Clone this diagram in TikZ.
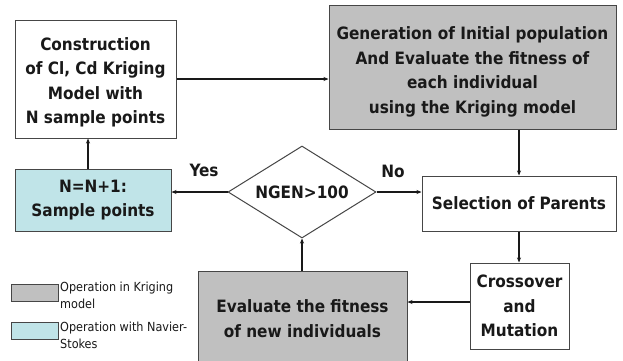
\documentclass[tikz,border=0pt]{standalone}
\usepackage{fontspec}
\setmainfont{DejaVu Sans Condensed}
\usetikzlibrary{shapes.geometric,arrows.meta}
\definecolor{boxgray}{RGB}{192,192,192}
\definecolor{boxblue}{RGB}{192,228,232}
\definecolor{txt}{RGB}{25,25,25}
\definecolor{edge}{RGB}{70,70,70}
\begin{document}
\begin{tikzpicture}[x=1pt,y=-1pt,
  boxtext/.style={inner sep=0pt,align=center,text=txt,
    font=\fontsize{17}{24.5}\selectfont\bfseries},
  box/.style={draw=edge,line width=1pt,boxtext},
  graybox/.style={box,fill=boxgray},
  bluebox/.style={box,fill=boxblue},
  arr/.style={-{Stealth[length=5pt,width=4pt]},line width=1.4pt,draw=txt},
  lbl/.style={text=txt,font=\fontsize{17}{20}\selectfont\bfseries},
  legtxt/.style={text=txt,font=\fontsize{12.5}{17}\selectfont,align=left,anchor=west,inner sep=0pt},
  swatch/.style={draw=edge,line width=1pt}]
\clip (0,0) rectangle (623,360);
\fill[white] (0,0) rectangle (623,360);
\node[box,minimum width=161pt,minimum height=118pt] (A) at (95.5,79) {};
\node[boxtext] (At) at (95.5,82.5)
  {Construction\\of Cl, Cd Kriging\\Model with\\N sample points};
\node[graybox,minimum width=287pt,minimum height=124pt] (B) at (472.5,67) {};
\node[boxtext] (Bt) at (472.5,72)
  {Generation of Initial population\\And Evaluate the fitness of\\each individual\\using the Kriging model};
\node[box,minimum width=194pt,minimum height=55pt] (C) at (519,203.5)
  {Selection of Parents};
\node[draw=edge,line width=1pt,shape=diamond,aspect=1.6,inner sep=0pt,
  minimum width=148pt,minimum height=92pt,text=txt,
  font=\fontsize{17}{20}\selectfont\bfseries] (G) at (302,192) {NGEN>100};
\node[bluebox,minimum width=156pt,minimum height=62pt] (D) at (93,200)
  {N=N+1:\\Sample points};
\node[box,minimum width=99pt,minimum height=86pt] (E) at (519.5,306)
  {Crossover\\and\\Mutation};
\node[graybox,minimum width=209pt,minimum height=98pt] (F) at (302.5,320) {};
\node[boxtext] (Ft) at (302.5,318.5) {Evaluate the fitness\\of new individuals};
\draw[arr] (A.east) -- (B.west |- A.east);
\draw[arr] (B.south -| C.north) -- (C.north);
\draw[arr] (G.east) -- (C.west |- G.east);
\draw[arr] (G.west) -- (D.east |- G.west);
\draw[arr] (D.north -| 88,0) -- (A.south -| 88,0);
\draw[arr] (C.south) -- (E.north -| C.south);
\draw[arr] (E.west |- 0,302) -- (F.east |- 0,302);
\draw[arr] (F.north -| G.south) -- (G.south);
\node[lbl] (yes) at (204,170) {Yes};
\node[lbl] (no) at (393,171) {No};
\node[swatch,fill=boxgray,minimum width=47pt,minimum height=17pt,inner sep=0pt] (L1) at (34.5,292.5) {};
\node[swatch,fill=boxblue,minimum width=47pt,minimum height=17pt,inner sep=0pt] (L2) at (34.5,330.5) {};
\node[legtxt] (T1) at (60,295) {Operation in Kriging\\model};
\node[legtxt] (T2) at (60,335) {Operation with Navier-\\Stokes};
\end{tikzpicture}
\end{document}
